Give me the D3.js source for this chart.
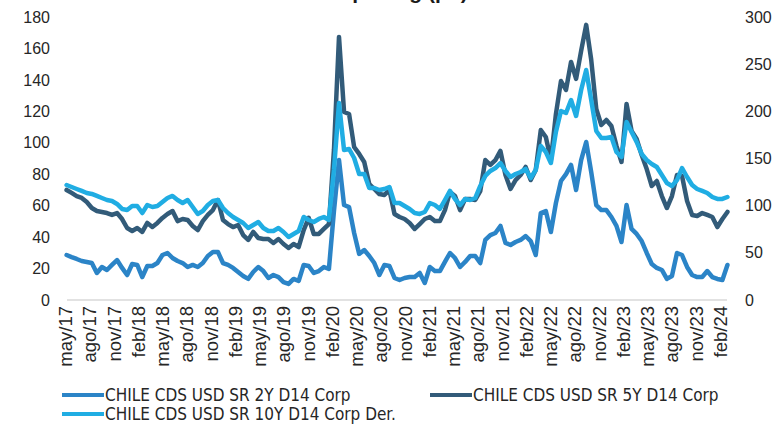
<!DOCTYPE html>
<html>
<head>
<meta charset="utf-8">
<script src="https://cdn.jsdelivr.net/npm/d3@7"></script>
<style>
  html, body { margin: 0; padding: 0; background: #ffffff; }
  svg { display: block; }
</style>
</head>
<body>
<svg id="chart" width="774" height="425"></svg>
<script>
// ---- Data ----
const seriesStart = "2017-05-07";   // first observation
const stepDays = 19;                // spacing of the sampled observations

const cds2Y = [28.6,27.3,26.1,24.8,24.2,23.5,17.2,21.0,19.1,22.3,25.4,20.4,15.9,22.9,22.3,14.6,21.6,21.6,23.5,28.6,
  29.9,26.7,24.8,23.5,21.0,22.3,21.0,23.5,28.0,30.5,30.5,23.5,22.3,20.4,17.8,15.3,13.4,17.8,21.0,18.4,
  14.0,15.9,14.6,11.4,10.2,13.4,12.1,22.3,21.6,17.2,18.4,21.0,19.7,56.6,89.0,60.4,59.1,42.6,29.3,31.8,
  28.0,23.5,15.9,22.3,21.6,14.0,12.7,14.0,14.6,14.6,17.2,10.8,21.0,18.4,18.4,24.2,29.9,26.7,21.0,24.2,
  28.0,28.0,23.5,38.2,41.3,42.6,47.1,36.3,35.0,36.9,38.2,40.7,37.5,28.6,55.3,56.6,43.2,61.7,75.7,80.1,
  85.9,70.0,89.0,100.5,81.4,60.4,57.2,57.2,52.8,47.1,36.9,60.4,45.2,42.0,37.5,29.9,22.9,20.4,19.1,13.4,
  15.3,29.9,28.6,21.0,15.9,14.6,14.6,18.4,14.6,13.4,12.7,22.3];

const cds5Y = [70.0,68.1,66.1,64.9,62.3,58.5,56.6,56.0,55.3,54.1,55.3,51.5,45.8,43.9,45.8,43.3,49.0,46.4,49.0,52.2,
  54.7,56.6,50.2,51.5,50.9,47.1,44.5,50.2,54.1,57.2,63.6,50.9,48.3,46.4,47.7,41.3,38.2,43.3,39.4,38.8,
  38.8,36.3,38.8,35.6,33.1,35.6,33.7,44.5,52.2,42.0,42.0,45.2,48.3,95.4,167.3,119.6,118.3,97.3,92.9,87.8,
  73.8,70.6,67.4,66.8,70.0,54.7,52.8,51.5,49.0,45.2,48.3,51.5,52.8,50.2,50.2,57.2,68.7,66.1,57.2,64.2,
  64.2,63.6,69.3,89.0,85.9,89.0,94.8,79.5,70.6,76.3,79.5,84.6,76.3,82.7,108.1,103.7,89.0,118.3,139.3,133.6,
  151.4,140.6,158.4,175.0,152.7,121.5,111.3,114.5,110.7,98.0,87.8,124.7,107.5,102.4,92.2,83.3,72.5,75.7,66.1,58.5,
  66.1,79.5,78.9,63.0,54.1,53.4,55.3,54.1,52.8,46.4,51.5,56.0];

const cds10Y = [121.9,119.8,117.7,115.6,113.4,112.4,110.3,108.1,106.0,105.0,101.8,96.5,95.4,99.6,99.6,92.2,100.7,98.6,99.6,103.9,
  108.1,110.3,106.0,102.8,106.0,98.6,91.2,94.3,100.7,105.0,106.0,97.5,92.2,88.0,84.8,81.6,76.3,79.5,82.7,76.3,
  73.1,73.1,76.3,72.1,66.8,70.0,73.1,88.0,84.8,82.7,85.9,88.0,84.8,137.8,208.8,159.0,160.1,150.5,133.6,133.6,
  118.7,118.7,116.6,117.7,119.8,102.8,102.8,99.6,96.5,92.2,91.2,93.3,102.8,100.7,96.5,106.0,115.6,107.1,100.7,107.1,
  106.0,108.1,120.9,131.5,136.8,139.9,145.2,136.8,130.4,133.6,135.7,138.9,129.3,137.8,163.3,156.9,145.2,178.1,200.4,198.2,
  212.0,195.1,222.6,243.8,212.0,179.2,171.7,171.7,172.8,156.9,151.6,188.7,178.1,167.5,154.8,148.4,144.2,141.0,132.5,124.0,
  120.9,127.2,139.9,130.4,121.9,117.7,115.6,113.4,109.2,107.1,107.1,109.2];

const seriesNames = ["CHILE CDS USD SR 2Y D14 Corp", "CHILE CDS USD SR 5Y D14 Corp", "CHILE CDS USD SR 10Y D14 Corp Der."];
const seriesColors = ["#2b84c7", "#325b79", "#20ade3"];
const titleText = "CDS pricing (pb)";

const leftTicks = [0, 20, 40, 60, 80, 100, 120, 140, 160, 180];
const rightTicks = [0, 50, 100, 150, 200, 250, 300];
const xTickLabels = ["may/17","ago/17","nov/17","feb/18","may/18","ago/18","nov/18","feb/19","may/19","ago/19","nov/19",
  "feb/20","may/20","ago/20","nov/20","feb/21","may/21","ago/21","nov/21","feb/22","may/22","ago/22","nov/22",
  "feb/23","may/23","ago/23","nov/23","feb/24"];

// ---- Build ----
const monthIdx = {ene:0,feb:1,mar:2,abr:3,may:4,jun:5,jul:6,ago:7,sep:8,oct:9,nov:10,dic:11};
const parseTick = s => { const [m, y] = s.split("/"); return new Date(2000 + +y, monthIdx[m], 1); };
const tickDates = xTickLabels.map(parseTick);

const start = d3.timeParse("%Y-%m-%d")(seriesStart);
const dates = cds2Y.map((_, i) => d3.timeDay.offset(start, i * stepDays));

const svg = d3.select("#chart");
const x = d3.scaleTime().domain([tickDates[0], tickDates[tickDates.length - 1]]).range([65, 720]);
const yL = d3.scaleLinear().domain([0, 180]).range([300, 17]);
const yR = d3.scaleLinear().domain([0, 300]).range([300, 17]);

const axisFont = "'Liberation Sans', Arial, sans-serif";

// title, cropped by the top edge in the reference (only its descenders show)
svg.append("text").attr("x", 302).attr("y", -1).attr("text-anchor", "start")
  .attr("font-family", axisFont).attr("font-weight", "bold").attr("font-size", 21)
  .attr("fill", "#1a1a1a").text(titleText);

// baseline gridline
svg.append("line").attr("x1", 67).attr("x2", 727).attr("y1", yL(0)).attr("y2", yL(0))
  .attr("stroke", "#d9d9d9").attr("stroke-width", 1.3);

// left axis
const gL = svg.append("g").attr("transform", "translate(50,0)")
  .call(d3.axisLeft(yL).tickValues(leftTicks).tickSize(0).tickPadding(0));
gL.select(".domain").remove();
gL.selectAll("text").attr("font-family", axisFont).attr("font-size", 16).attr("fill", "#262626");

// right axis
const gR = svg.append("g").attr("transform", "translate(745,0)")
  .call(d3.axisRight(yR).tickValues(rightTicks).tickSize(0).tickPadding(0));
gR.select(".domain").remove();
gR.selectAll("text").attr("font-family", axisFont).attr("font-size", 16).attr("fill", "#262626");

// bottom axis
const gB = svg.append("g").attr("transform", `translate(0,${yL(0) + 6})`)
  .call(d3.axisBottom(x).tickValues(tickDates).tickFormat((d, i) => xTickLabels[i]).tickSize(0).tickPadding(0));
gB.select(".domain").remove();
gB.selectAll("text")
  .attr("font-family", axisFont).attr("font-size", 18.5).attr("fill", "#262626")
  .attr("text-anchor", "end").attr("transform", "rotate(-90)")
  .attr("x", 0).attr("y", 0).attr("dy", "0.35em");

// lines
const mk = (scale) => d3.line().x((d, i) => x(dates[i])).y(d => scale(d)).curve(d3.curveLinear);
const plots = [[cds2Y, yL], [cds5Y, yL], [cds10Y, yR]];
plots.forEach(([vals, sc], k) => {
  svg.append("path").datum(vals)
    .attr("d", mk(sc))
    .attr("fill", "none").attr("stroke", seriesColors[k])
    .attr("stroke-width", 4.5).attr("stroke-linejoin", "round").attr("stroke-linecap", "round");
});

// legend
const legendFont = "'DejaVu Sans Condensed', 'Liberation Sans', sans-serif";
const legendPos = [[62, 395], [430, 395], [62, 414]];
seriesNames.forEach((name, k) => {
  const [lx, ly] = legendPos[k];
  const g = svg.append("g").attr("transform", `translate(${lx},${ly})`);
  g.append("line").attr("x1", 0).attr("x2", 42).attr("y1", 0).attr("y2", 0)
    .attr("stroke", seriesColors[k]).attr("stroke-width", 4);
  g.append("text").attr("x", 43).attr("y", 0).attr("dy", "0.35em")
    .attr("font-family", legendFont).attr("font-size", 17).attr("fill", "#262626").text(name);
});
</script>
</body>
</html>
